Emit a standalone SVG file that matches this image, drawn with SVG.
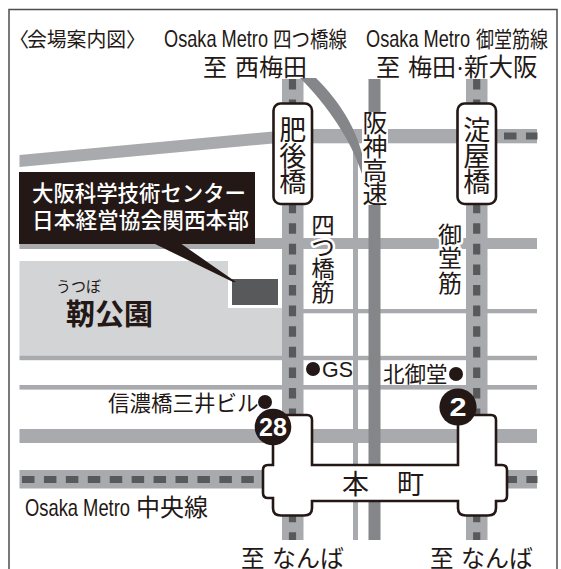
<svg xmlns="http://www.w3.org/2000/svg" width="561" height="569" viewBox="0 0 561 569">
<defs>
<style>
text{font-family:"Noto Sans CJK JP","Noto Sans",sans-serif;fill:#231815}
.lat{font-family:"Liberation Sans",Arial,sans-serif}
.halo{stroke:#fff;stroke-width:5px;paint-order:stroke;stroke-linejoin:round}
.road{fill:#a9aaad}
.dash{fill:none;stroke:#58595b;stroke-width:7.2}
.exp{fill:#85868a}
.st{fill:#fff;stroke:#231815;stroke-width:2.6}
.dot{fill:#231815}
.num{fill:#fff;font-family:"Liberation Sans",Arial,sans-serif;font-weight:700}
</style>
</defs>
<rect width="561" height="569" fill="#fff"/>
<path d="M9 569V9.5H557V569" fill="none" stroke="#4d4d4f" stroke-width="1.5"/>
<g id="park">
<path d="M19.5 261H228V308H282V356H19.5Z" fill="#d3d4d6"/>
</g>
<g id="connectors">
<rect class="road" x="353" y="143" width="5" height="397"/>
<path class="road" d="M19.5 155L273 131.5V143.5L19.5 167Z"/>
<rect class="road" x="280" y="129" width="257" height="14.3"/>
<rect class="road" x="19.5" y="238" width="517.5" height="11"/>
<rect class="road" x="282" y="309" width="255" height="4.3"/>
<rect class="road" x="19.5" y="355.8" width="517.5" height="4.4"/>
<rect class="road" x="19.5" y="385" width="517.5" height="4.6"/>
<rect class="road" x="19.5" y="429" width="517.5" height="14"/>
<rect class="road" x="19.5" y="470" width="517.5" height="18.5"/>
<rect class="road" x="282" y="79" width="21.5" height="461"/>
<rect class="road" x="466" y="79" width="21.5" height="461"/>
<rect class="exp" x="368.5" y="79" width="12" height="461"/>
<path class="exp" d="M300 78H316C338 100 358 128 365 166L362 174C351 140 328 106 300 78Z"/>
<path class="dash" d="M292.5 79V540M476.7 79V540" stroke-dasharray="10.6 10"/>
<path class="dash" d="M22 479.5H537.5" stroke-dasharray="12.5 9.43"/>
<path class="dash" d="M504 136H537.5" stroke-dasharray="12.5 9.43"/>
</g>
<g id="venue">
<rect x="232" y="279" width="46" height="26" fill="#58595b"/>
<path d="M153 243H180L236 282H233Z" fill="#231815"/>
<rect x="19" y="172" width="236" height="72" fill="#231815"/>
<text x="32" y="201" font-size="22" font-weight="500" style="fill:#fff" textLength="214" lengthAdjust="spacingAndGlyphs">大阪科学技術センター</text>
<text x="32" y="228" font-size="22" font-weight="500" style="fill:#fff" textLength="217" lengthAdjust="spacingAndGlyphs">日本経営協会関西本部</text>
</g>
<g id="park-label">
<text x="56" y="292" font-size="15">うつぼ</text>
<text x="66" y="325" font-size="29" font-weight="700">靭公園</text>
</g>
<g id="title">
<text x="9" y="47" font-size="20">〈</text>
<text x="27" y="47" font-size="20" textLength="99" lengthAdjust="spacingAndGlyphs">会場案内図</text>
<text x="126" y="47" font-size="20">〉</text>
</g>
<g id="line-yotsubashi">
<text class="lat" x="164" y="47" font-size="24" textLength="104" lengthAdjust="spacingAndGlyphs">Osaka Metro</text>
<text x="273" y="47" font-size="21.5" textLength="74" lengthAdjust="spacingAndGlyphs">四つ橋線</text>
<text x="203" y="76" font-size="24">至</text>
<text x="235" y="76" font-size="24">西梅田</text>
</g>
<g id="line-midosuji">
<text class="lat" x="366" y="47" font-size="24" textLength="104" lengthAdjust="spacingAndGlyphs">Osaka Metro</text>
<text x="476" y="47" font-size="21.5" textLength="72" lengthAdjust="spacingAndGlyphs">御堂筋線</text>
<text x="376" y="76" font-size="24">至</text>
<text x="408" y="76" font-size="24">梅田</text>
<text x="454" y="76" font-size="22">·</text>
<text x="464" y="76" font-size="24.5">新大阪</text>
</g>
<g id="line-chuo">
<text class="lat" x="25" y="516" font-size="24" textLength="105" lengthAdjust="spacingAndGlyphs">Osaka Metro</text>
<text x="136" y="516" font-size="24">中央線</text>
</g>
<g id="hanshin-label">
<rect x="362" y="112" width="26" height="93" fill="#fff"/>
<text font-size="25" text-anchor="middle"><tspan x="375" y="132">阪</tspan><tspan x="375" y="156">神</tspan><tspan x="375" y="180">高</tspan><tspan x="375" y="203">速</tspan></text>
</g>
<g id="yotsubashi-suji-label">
<text class="halo" font-size="23.5" text-anchor="middle"><tspan x="323" y="234">四</tspan><tspan x="323" y="256">つ</tspan><tspan x="323" y="278">橋</tspan><tspan x="323" y="301">筋</tspan></text>
</g>
<g id="midosuji-label">
<text class="halo" font-size="24" text-anchor="middle"><tspan x="450" y="244">御</tspan><tspan x="450" y="267">堂</tspan><tspan x="450" y="292">筋</tspan></text>
</g>
<g id="station-higobashi">
<rect class="st" x="273.5" y="103.5" width="38.5" height="100.5" rx="7"/>
<text font-size="27" text-anchor="middle"><tspan x="292.7" y="140">肥</tspan><tspan x="292.7" y="166">後</tspan><tspan x="292.7" y="192">橋</tspan></text>
</g>
<g id="station-yodoyabashi">
<rect class="st" x="457.5" y="103.5" width="38.5" height="100.5" rx="7"/>
<text font-size="27" text-anchor="middle"><tspan x="476.7" y="140">淀</tspan><tspan x="476.7" y="166">屋</tspan><tspan x="476.7" y="192">橋</tspan></text>
</g>
<g id="station-honmachi">
<path class="st" d="M273 427V465H268Q263 465 263 470V493Q263 498 268 498H273V508Q273 515.5 281 515.5H304Q312 515.5 312 508V501H458V508Q458 515.5 466 515.5H488Q496 515.5 496 508V501H502Q507 501 507 496V470Q507 465 502 465H496V420Q496 415 491 415H458V465H312V420Q312 415 307 415H273Z"/>
<text x="342" y="494" font-size="27">本</text>
<text x="397" y="494" font-size="27">町</text>
</g>
<g id="exit-28">
<circle class="dot" cx="273" cy="427" r="18.3"/>
<text class="num" x="273" y="436" font-size="25" text-anchor="middle">28</text>
</g>
<g id="exit-2">
<circle class="dot" cx="458" cy="407" r="18.6"/>
<text class="num" x="449.5" y="416" font-size="25" textLength="17" lengthAdjust="spacingAndGlyphs">2</text>
</g>
<g id="poi-gs">
<circle class="dot" cx="313" cy="369" r="7"/>
<text class="lat" x="322" y="377" font-size="21.5" textLength="31" lengthAdjust="spacingAndGlyphs">GS</text>
</g>
<g id="poi-kitamido">
<circle class="dot" cx="456" cy="374" r="7"/>
<text x="383" y="382" font-size="21.5">北御堂</text>
</g>
<g id="poi-mitsui">
<circle class="dot" cx="265" cy="402" r="7"/>
<text x="108" y="411" font-size="21.5">信濃橋三井ビル</text>
</g>
<g id="dest-nanba">
<text x="241" y="567" font-size="23.5">至</text>
<text x="272" y="567" font-size="24">なんば</text>
<text x="430" y="567" font-size="23.5">至</text>
<text x="461" y="567" font-size="24">なんば</text>
</g>
</svg>
